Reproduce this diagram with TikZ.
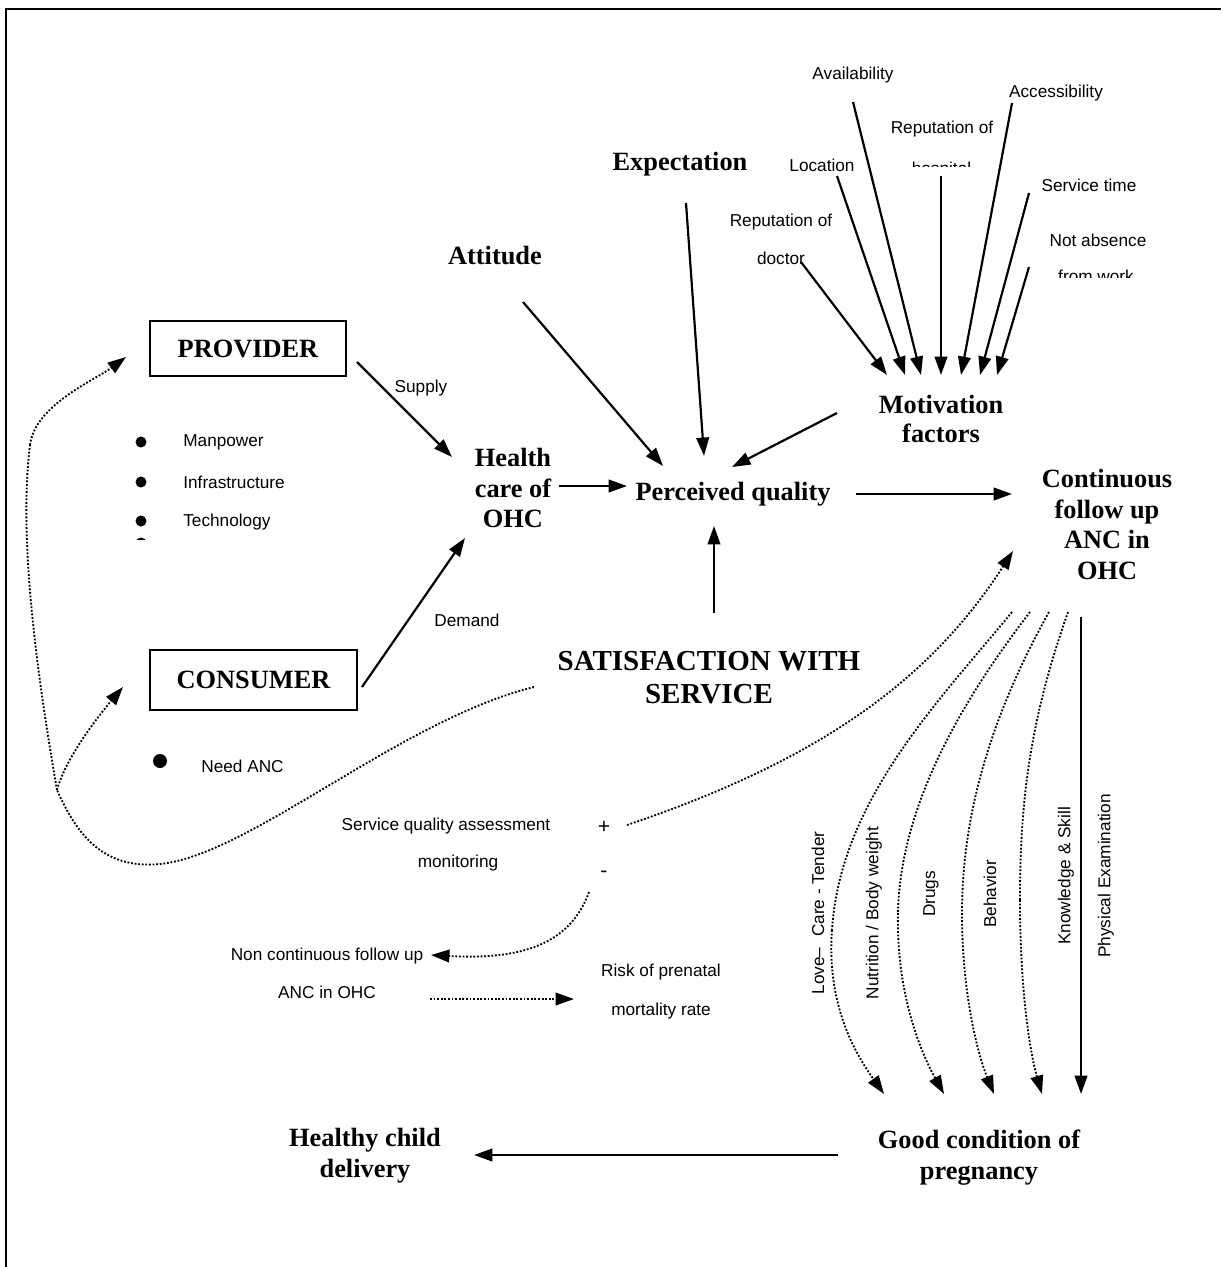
\documentclass[tikz,border=0pt]{standalone}
\usepackage{fontspec}
\setmainfont{Liberation Serif}
\setsansfont{Liberation Sans}
\usetikzlibrary{arrows.meta}
\begin{document}
\begin{tikzpicture}[x=0.02cm,y=-0.02cm,
  big/.style={font=\fontsize{15}{17.6}\selectfont\bfseries, align=center, inner sep=0pt},
  huge/.style={font=\fontsize{16.5}{18.7}\selectfont\bfseries, align=center, inner sep=0pt},
  small/.style={font=\sffamily\fontsize{9.8}{21.5}\selectfont, align=center, inner sep=0pt},
  boxed/.style={draw, line width=1.2pt, minimum width=#1, inner sep=0pt},
  arr/.style={line width=1.25pt, -{Triangle[length=10.5pt,width=7.2pt]}},
  darr/.style={line width=1.05pt, densely dotted, -{Triangle[length=10.5pt,width=7.2pt]}},
  dline/.style={line width=1.05pt, densely dotted},
  frame/.style={line width=1.7pt}
]
\useasboundingbox (0,0) rectangle (1221,1267);
\draw[frame] (1221,9) -- (6,9) -- (6,1267);

% ---------- top labels (motivation factors) ----------
\node[small] (avail) at (853,75) {Availability};
\node[small] (access) at (1056,93) {Accessibility};
\node[small] (rephosp) at (942,129) {Reputation of};
\begin{scope}
  \clip (880,150) rectangle (1000,166.8);
  \node[small, anchor=base] (hosp) at (941.5,175) {hospital};
\end{scope}
\node[small] (loc) at (822,165) {Location};
\node[small] (servtime) at (1089,185) {Service time};
\node[small] (repdoc) at (781,239) {Reputation of\\doctor};
\node[small] (notabs) at (1098,240) {Not absence};
\begin{scope}
  \clip (1040,262) rectangle (1150,277.2);
  \node[small, anchor=base] (fromwork) at (1096,282) {from work};
\end{scope}

\node[big] (expect) at (680,164) {Expectation};
\node[big] (attitude) at (495,256) {Attitude};
\node[big, font=\fontsize{15}{17}\selectfont\bfseries] (motiv) at (941,419) {Motivation\\factors};

% ---------- provider / consumer ----------
\node[boxed=3.92cm, minimum height=1.1cm, big] (provider) at (248,348.5) {PROVIDER};
\node[boxed=4.14cm, minimum height=1.2cm, big] (consumer) at (253.5,680) {CONSUMER};
\node[small] (supply) at (421,388) {Supply};
\node[small] (demand) at (467,620) {Demand};

\fill (141,442) circle (5.5);
\fill (141,482) circle (5.5);
\fill (141,521) circle (5.5);
\begin{scope}
  \clip (120,530) rectangle (160,539.5);
  \fill (141,543) circle (5.5);
\end{scope}
\node[small, anchor=west] (manpower) at (183,442) {Manpower};
\node[small, anchor=west] (infra) at (183,482) {Infrastructure};
\node[small, anchor=west] (techno) at (183,522) {Technology};
\fill (160,761) circle (7);
\node[small, anchor=west] (needanc) at (201,766) {Need ANC};

% ---------- centre ----------
\node[big] (health) at (513,488) {Health\\care of\\OHC};
\node[big] (perceived) at (733,494) {Perceived quality};
\node[big] (cont) at (1107,524.5) {Continuous\\follow up\\ANC in\\OHC};
\node[huge] (satis) at (709,678) {SATISFACTION WITH\\SERVICE};

% ---------- lower left ----------
\node[small] (sqa) at (446,826) {Service quality assessment};
\node[small] (monit) at (458,863) {monitoring};
\node[small, font=\sffamily\fontsize{12}{14}\selectfont] (plus) at (604,827) {+};
\node[small, font=\sffamily\fontsize{12}{14}\selectfont] (minus) at (604,874) {-};
\node[small] (noncont) at (327,973) {Non continuous follow up\\ANC in OHC};
\node[small, font=\sffamily\fontsize{9.8}{22}\selectfont] (risk) at (661,991.5) {Risk of prenatal\\mortality rate};

% ---------- vertical labels ----------
\node[small, rotate=90] (love) at (818,913) {Love–\,\, Care - Tender};
\node[small, rotate=90] (nutri) at (874,913) {Nutrition / Body weight};
\node[small, rotate=90] (drugs) at (931,894) {Drugs};
\node[small, rotate=90] (behav) at (990,894) {Behavior};
\node[small, rotate=90] (know) at (1066,876) {Knowledge \& Skill};
\node[small, rotate=90] (phys) at (1106,876) {Physical Examination};

% ---------- bottom ----------
\node[big] (healthy) at (365,1156) {Healthy child\\delivery};
\node[big] (good) at (979,1158) {Good condition of\\pregnancy};

% ---------- coordinates ----------
\coordinate (sDoc) at (801,262);   \coordinate (tDoc) at (887,375);
\coordinate (sLoc) at (837,176);   \coordinate (tLoc) at (905,375);
\coordinate (sAv) at (853,102);    \coordinate (tAv) at (921,375);
\coordinate (sHo) at (941,176);    \coordinate (tHo) at (941,375);
\coordinate (sAc) at (1012,103);   \coordinate (tAc) at (961,375);
\coordinate (sSt) at (1029,193);   \coordinate (tSt) at (980,375);
\coordinate (sNa) at (1029,267);   \coordinate (tNa) at (997,375);

\coordinate (sMot) at (837,413);   \coordinate (tMot) at (732,467);
\coordinate (sExp) at (686,203);   \coordinate (tExp) at (704,456);
\coordinate (sAtt) at (523,302);   \coordinate (tAtt) at (663,466);
\coordinate (sSup) at (357,362);   \coordinate (tSup) at (452,457);
\coordinate (sDem) at (362,687);   \coordinate (tDem) at (465,538);
\coordinate (sHc) at (559,486);    \coordinate (tHc) at (627,486);
\coordinate (sPq) at (856,494);    \coordinate (tPq) at (1012,494);
\coordinate (sSat) at (714,613);   \coordinate (tSat) at (714,526);
\coordinate (sPhys) at (1081,617); \coordinate (tPhys) at (1081,1094);
\coordinate (sGood) at (838,1155); \coordinate (tGood) at (474,1155);

\coordinate (sLoop) at (534,687);
\coordinate (loopMin) at (160,864);
\coordinate (split) at (57,790);
\coordinate (leftMid) at (30,445);
\coordinate (tProv) at (126,357);
\coordinate (tCons) at (123,687);
\coordinate (sPlus) at (627,825);  \coordinate (tCont) at (1013,551);
\coordinate (sMinus) at (589,892); \coordinate (tNon) at (431,955);
\coordinate (sAnc) at (430,999);   \coordinate (tRisk) at (574,999);

\coordinate (s1) at (1012,612); \coordinate (m1) at (832,930); \coordinate (t1) at (884,1094);
\coordinate (s2) at (1030,612); \coordinate (m2) at (898,913); \coordinate (t2) at (944,1094);
\coordinate (s3) at (1049,612); \coordinate (m3) at (962,913); \coordinate (t3) at (994,1094);
\coordinate (s4) at (1068,612); \coordinate (m4) at (1020,900); \coordinate (t4) at (1042,1094);

% ---------- solid arrows ----------
\draw[arr] (sDoc) -- (tDoc);
\draw[arr] (sLoc) -- (tLoc);
\draw[arr] (sAv) -- (tAv);
\draw[arr] (sHo) -- (tHo);
\draw[arr] (sAc) -- (tAc);
\draw[arr] (sSt) -- (tSt);
\draw[arr] (sNa) -- (tNa);
\draw[arr] (sMot) -- (tMot);
\draw[arr] (sExp) -- (tExp);
\draw[arr] (sAtt) -- (tAtt);
\draw[arr] (sSup) -- (tSup);
\draw[arr] (sDem) -- (tDem);
\draw[arr] (sHc) -- (tHc);
\draw[arr] (sPq) -- (tPq);
\draw[arr] (sSat) -- (tSat);
\draw[arr] (sPhys) -- (tPhys);
\draw[arr] (sGood) -- (tGood);

% ---------- dotted arrows ----------
\draw[dline] (sLoop) .. controls (400,720) and (250,855) .. (loopMin)
                     .. controls (100,870) and (75,830) .. (split);
\draw[dline] (split) .. controls (38,680) and (18,540) .. (leftMid);
\draw[darr] (leftMid) .. controls (35,405) and (95,380) .. (tProv);
\draw[darr] (split) .. controls (65,760) and (95,720) .. (tCons);
\draw[darr] (sPlus) .. controls (820,760) and (930,680) .. (tCont);
\draw[darr] (sMinus) .. controls (570,945) and (520,960) .. (tNon);
\draw[darr] (sAnc) -- (tRisk);

\draw[dline] (s1) .. controls (940,700) and (840,800) .. (m1);
\draw[darr] (m1) .. controls (826,1010) and (860,1060) .. (t1);
\draw[dline] (s2) .. controls (970,690) and (900,800) .. (m2);
\draw[darr] (m2) .. controls (896,1000) and (925,1060) .. (t2);
\draw[dline] (s3) .. controls (1000,700) and (962,800) .. (m3);
\draw[darr] (m3) .. controls (962,1000) and (980,1060) .. (t3);
\draw[dline] (s4) .. controls (1030,720) and (1020,800) .. (m4);
\draw[darr] (m4) .. controls (1020,1000) and (1032,1060) .. (t4);
\end{tikzpicture}
\end{document}
